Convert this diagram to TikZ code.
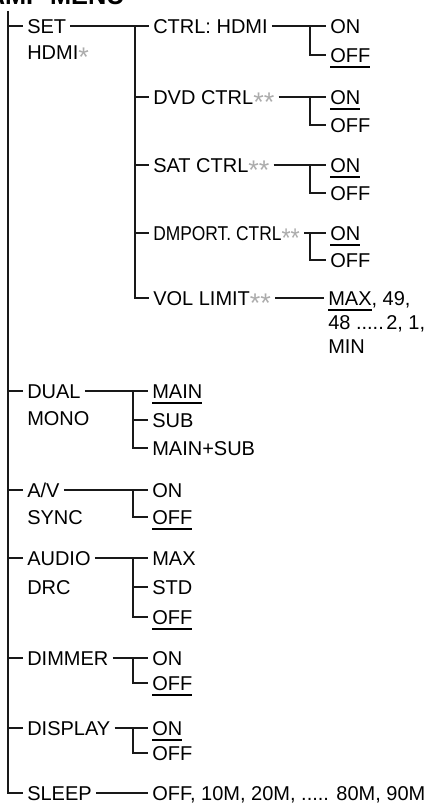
\documentclass[tikz,border=0pt]{standalone}
\usepackage{fontspec}
\setmainfont{Liberation Sans}
\usepackage{xcolor}
\usepackage{graphicx}
\usetikzlibrary{positioning}

\newcommand{\menufont}{\fontsize{15}{18}\selectfont}
\newcommand{\gstar}{{\color{gray!65}\raisebox{-5.5pt}{\scalebox{1.35}{*}}}}
\newsavebox{\dfltbox}
\newcommand{\dflt}[1]{\sbox{\dfltbox}{#1}\rlap{\rule[-4.1pt]{\wd\dfltbox}{1.1pt}}\usebox{\dfltbox}}

\tikzset{
  item/.style={anchor=west, inner xsep=3pt, inner ysep=0pt, text height=10.75pt, text depth=0pt, font=\menufont},
  wire/.style={line width=1.1pt, black!90}
}

\begin{document}
\begin{tikzpicture}[x=0.75pt, y=-0.75pt]
  \useasboundingbox (0,0) rectangle (427,805);
  \node[font=\bfseries\fontsize{19}{22}\selectfont, anchor=base east, inner sep=0pt] (title) at (125,4.5) {AMP MENU};
  \coordinate (root) at (8,11);

  % first level
  \node[item] (set) at (23,26) {SET};
  \node[item, below=8.4pt of set.south west, anchor=north west] (set2) {HDMI\gstar};
  \node[item] (dual) at (23,391) {DUAL};
  \node[item, below=9.5pt of dual.south west, anchor=north west] (dual2) {MONO};
  \node[item] (av) at (23,490) {A/V};
  \node[item, below=9.5pt of av.south west, anchor=north west] (av2) {SYNC};
  \node[item] (audio) at (23,558) {AUDIO};
  \node[item, below=11pt of audio.south west, anchor=north west] (audio2) {DRC};
  \node[item] (dimmer) at (23,658) {DIMMER};
  \node[item] (display) at (23,728) {DISPLAY};
  \node[item] (sleep) at (23,793) {SLEEP};

  % SET HDMI branch
  \coordinate (j2) at (135,26);
  \node[item] (ctrl) at (149,26) {CTRL: HDMI};
  \node[item] (dvd) at (149,97) {DVD CTRL\gstar\gstar};
  \node[item] (sat) at (149,165) {SAT CTRL\gstar\gstar};
  \node[item] (dmp) at (149,233) {\scalebox{0.87}[1]{DMPORT. CTRL\gstar\gstar}};
  \node[item] (vol) at (149,298) {VOL LIMIT\gstar\gstar};

  \coordinate (j3) at (310,0);
  \node[item] (c-on) at (326,26) {ON};
  \node[item] (c-off) at (326,55) {\dflt{OFF}};
  \node[item] (d-on) at (326,97) {\dflt{ON}};
  \node[item] (d-off) at (326,125) {OFF};
  \node[item] (s-on) at (326,165) {\dflt{ON}};
  \node[item] (s-off) at (326,193) {OFF};
  \node[item] (m-on) at (326,233) {\dflt{ON}};
  \node[item] (m-off) at (326,260) {OFF};
  \node[item] (volval) at (324,298) {\dflt{MAX}, 49,};
  \node[item, below=6.9pt of volval.south west, anchor=north west] (volval2) {48 .....\hspace{0.12em}2, 1,};
  \node[item, below=6.9pt of volval2.south west, anchor=north west] (volval3) {MIN};

  % other settings
  \coordinate (j4) at (133,0);
  \node[item] (main) at (148,391) {\dflt{MAIN}};
  \node[item] (sub) at (148,420) {SUB};
  \node[item] (mainsub) at (148,448) {MAIN+SUB};
  \node[item] (a-on) at (148,490) {ON};
  \node[item] (a-off) at (148,517) {\dflt{OFF}};
  \node[item] (max) at (148,558) {MAX};
  \node[item] (std) at (148,587) {STD};
  \node[item] (r-off) at (148,617) {\dflt{OFF}};
  \node[item] (i-on) at (148,658) {ON};
  \node[item] (i-off) at (148,683) {\dflt{OFF}};
  \node[item] (p-on) at (148,728) {\dflt{ON}};
  \node[item] (p-off) at (148,753) {OFF};
  \node[item] (sleepval) at (148,793) {OFF, 10M, 20M, ..... 80M, 90M};

  % connectors
  \draw[wire] (root) |- (sleep.west);
  \foreach \n in {set,dual,av,audio,dimmer,display}
    \draw[wire] (root |- \n.west) -- (\n.west);

  \draw[wire] (set.east) -- (ctrl.west);
  \draw[wire] (j2) |- (vol.west);
  \foreach \n in {dvd,sat,dmp}
    \draw[wire] (j2 |- \n.west) -- (\n.west);

  \foreach \p/\a in {ctrl/c-on, dvd/d-on, sat/s-on, dmp/m-on, av/a-on, dimmer/i-on, display/p-on}
    \draw[wire] (\p.east) -- (\a.west);
  \foreach \a/\b in {c-on/c-off, d-on/d-off, s-on/s-off, m-on/m-off}
    \draw[wire] (j3 |- \a.west) |- (\b.west);
  \foreach \a/\b in {a-on/a-off, i-on/i-off, p-on/p-off, main/mainsub, max/r-off}
    \draw[wire] (j4 |- \a.west) |- (\b.west);

  \draw[wire] (vol.east) -- (volval.west);
  \draw[wire] (dual.east) -- (main.west);
  \draw[wire] (j4 |- sub.west) -- (sub.west);
  \draw[wire] (audio.east) -- (max.west);
  \draw[wire] (j4 |- std.west) -- (std.west);
  \draw[wire] (sleep.east) -- (sleepval.west);
\end{tikzpicture}
\end{document}
